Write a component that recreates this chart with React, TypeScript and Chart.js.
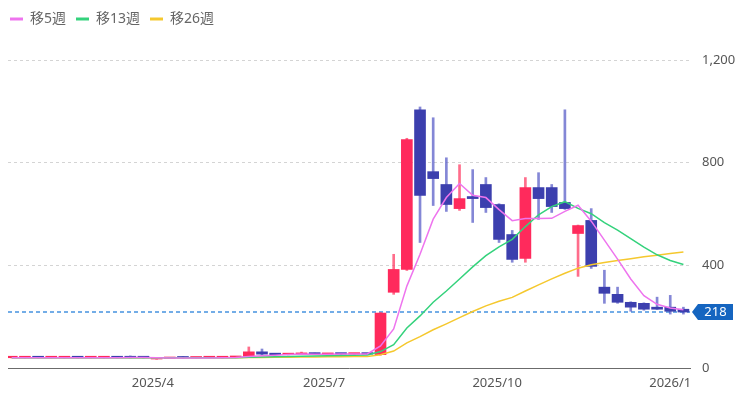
import React, { useEffect, useRef } from 'react';
import { Chart, registerables } from 'chart.js';

Chart.register(...registerables);

// Weekly candles (week start dates)
const weekStarts = [
  '2025-01-13', '2025-01-20', '2025-01-27', '2025-02-03', '2025-02-10', '2025-02-17', '2025-02-24',
  '2025-03-03', '2025-03-10', '2025-03-17', '2025-03-24', '2025-03-31', '2025-04-07', '2025-04-14',
  '2025-04-21', '2025-04-28', '2025-05-05', '2025-05-12', '2025-05-19', '2025-05-26', '2025-06-02',
  '2025-06-09', '2025-06-16', '2025-06-23', '2025-06-30', '2025-07-07', '2025-07-14', '2025-07-21',
  '2025-07-28', '2025-08-04', '2025-08-11', '2025-08-18', '2025-08-25', '2025-09-01', '2025-09-08',
  '2025-09-15', '2025-09-22', '2025-09-29', '2025-10-06', '2025-10-13', '2025-10-20', '2025-10-27',
  '2025-11-03', '2025-11-10', '2025-11-17', '2025-11-24', '2025-12-01', '2025-12-08', '2025-12-15',
  '2025-12-22', '2025-12-29', '2026-01-05',
];

const opens = [
  40, 40, 41, 40, 40, 41, 40, 40, 41, 42, 41, 35, 37, 40, 39, 40, 40, 41,
  44, 63, 54, 52, 53, 57, 53, 56, 54, 55,
  52, 295, 384, 1006, 765, 715, 621, 668, 715, 637, 520, 427, 703, 703, 645, 524,
  575, 315, 287, 256, 252, 237, 237, 229,
];
const closes = [
  40, 41, 40, 40, 41, 40, 40, 41, 40, 40, 40, 37, 39, 39, 40, 40, 41, 42,
  63, 54, 52, 53, 56, 54, 56, 54, 55, 54,
  214, 384, 890, 672, 738, 637, 660, 660, 625, 501, 423, 703, 660, 629, 621, 555,
  396, 291, 256, 237, 229, 229, 221, 218,
];
const highs = [
  41, 41, 41, 41, 42, 41, 41, 42, 42, 47, 45, 38, 40, 44, 41, 41, 41, 43,
  82, 74, 55, 55, 62, 58, 57, 57, 56, 56,
  216, 443, 895, 1017, 975, 819, 792, 773, 742, 640, 536, 742, 761, 715, 1006, 557,
  621, 381, 315, 258, 254, 276, 283, 237,
];
const lows = [
  39, 39, 39, 39, 39, 39, 39, 39, 39, 39, 39, 34, 37, 38, 38, 39, 39, 40,
  42, 52, 51, 51, 52, 53, 52, 53, 53, 52,
  50, 287, 380, 489, 633, 610, 614, 567, 606, 489, 412, 412, 579, 606, 618, 357,
  388, 252, 252, 221, 225, 228, 210, 210,
];

// Moving averages
const ma5 = [
  40, 40, 40, 40, 40, 40, 40, 40, 40, 41, 41, 40, 39, 39, 39, 39, 40, 41,
  45, 48, 50, 53, 55, 54, 54, 55, 55, 55,
  86, 152, 319, 443, 580, 664, 719, 673, 664, 617, 574, 582, 582, 583, 610, 634,
  572, 498, 424, 347, 282, 248, 234, 227,
];
const ma13 = [
  40, 40, 40, 40, 40, 40, 40, 40, 40, 40, 40, 40, 40, 40, 40, 40, 40, 40,
  42, 43, 44, 45, 46, 47, 48, 49, 50, 51,
  64, 91, 156, 203, 256, 300, 347, 394, 438, 472, 501, 551, 597, 629, 648, 622,
  601, 566, 537, 504, 471, 441, 419, 403,
];
const ma26 = [
  40, 40, 40, 40, 40, 40, 40, 40, 40, 40, 40, 40, 40, 40, 40, 40, 40, 40,
  41, 41, 42, 42, 43, 43, 44, 44, 45, 45,
  52, 66, 98, 122, 149, 172, 196, 220, 242, 260, 275, 300, 324, 347, 369, 389,
  402, 411, 419, 426, 433, 439, 446, 452,
];

const seriesNames = ['移5週', '移13週', '移26週'];
const seriesColors = ['#ee74ee', '#34d27c', '#f5c82e'];
const tickDates = ['2025-04-01', '2025-07-01', '2025-10-01', '2026-01-01'];
const tickLabels = ['2025/4', '2025/7', '2025/10', '2026/1'];
const yTicks = [0, 400, 800, 1200];
const lastPrice = 218;

const UP = '#ff2a5c';
const DOWN = '#3c3fae';
const UP_WICK = 'rgba(255,60,100,0.75)';
const DOWN_WICK = 'rgba(80,84,196,0.7)';
const FONT = '"Noto Sans", "Noto Sans CJK JP", sans-serif';

const DAY = 86400000;
const t0 = Date.parse(weekStarts[0]);
const dayOf = (s: string) => (Date.parse(s) - t0) / DAY;
const candleX = weekStarts.map((s) => dayOf(s) + 3);

const isUp = (i: number) => closes[i] >= opens[i];

export default function App() {
  const ref = useRef<HTMLCanvasElement | null>(null);

  useEffect(() => {
    if (!ref.current) return;
    Chart.defaults.font.family = FONT;

    const legendSpacer = {
      id: 'legendSpacer',
      beforeInit(chart: any) {
        const lg = chart.legend;
        if (!lg) return;
        const fit = lg.fit;
        lg.fit = function () {
          fit.call(this);
          this.height += 24;
        };
      },
    };

    const priceLine = {
      id: 'priceLine',
      beforeDatasetsDraw(chart: any) {
        const { ctx, chartArea } = chart;
        const y = chart.scales.y.getPixelForValue(lastPrice);
        ctx.save();
        ctx.strokeStyle = '#4592e0';
        ctx.lineWidth = 1.5;
        ctx.setLineDash([4, 3]);
        ctx.beginPath();
        ctx.moveTo(chartArea.left, y);
        ctx.lineTo(chartArea.right, y);
        ctx.stroke();
        ctx.restore();
      },
      afterDraw(chart: any) {
        const { ctx, chartArea } = chart;
        const y = chart.scales.y.getPixelForValue(lastPrice);
        const x0 = chartArea.right + 2;
        const h = 16;
        const w = 41;
        ctx.save();
        ctx.fillStyle = '#1565c0';
        ctx.beginPath();
        ctx.moveTo(x0, y);
        ctx.lineTo(x0 + 6, y - h / 2);
        ctx.lineTo(x0 + w, y - h / 2);
        ctx.lineTo(x0 + w, y + h / 2);
        ctx.lineTo(x0 + 6, y + h / 2);
        ctx.closePath();
        ctx.fill();
        ctx.fillStyle = '#ffffff';
        ctx.font = `13px ${FONT}`;
        ctx.textAlign = 'center';
        ctx.textBaseline = 'middle';
        ctx.fillText(String(lastPrice), x0 + 6 + (w - 6) / 2, y + 0.5);
        ctx.restore();
      },
    };

    const lineSets = [ma5, ma13, ma26].map((arr, k) => ({
      type: 'line' as const,
      label: seriesNames[k],
      data: arr.map((v, i) => ({ x: candleX[i], y: v })),
      borderColor: seriesColors[k],
      backgroundColor: seriesColors[k],
      borderWidth: 1.5,
      pointRadius: 0,
      tension: 0,
      order: k,
      yAxisID: 'y',
    }));

    const chart = new Chart(ref.current, {
      type: 'bar',
      data: {
        datasets: [
          ...lineSets,
          {
            type: 'bar',
            label: '',
            data: opens.map((o, i) => ({ x: candleX[i], y: [o, closes[i]] })),
            backgroundColor: (c: any) => (isUp(c.dataIndex) ? UP : DOWN),
            barThickness: 11,
            minBarLength: 1.5,
            grouped: false,
            order: 5,
            yAxisID: 'y',
          },
          {
            type: 'bar',
            label: '',
            data: lows.map((l, i) => ({ x: candleX[i], y: [l, highs[i]] })),
            backgroundColor: (c: any) => (isUp(c.dataIndex) ? UP_WICK : DOWN_WICK),
            barThickness: 2,
            grouped: false,
            order: 6,
            yAxisID: 'y',
          },
        ] as any,
      },
      options: {
        animation: false,
        responsive: true,
        maintainAspectRatio: false,
        layout: { padding: { top: 2, right: 0, bottom: 1, left: 0 } },
        plugins: {
          tooltip: { enabled: false },
          legend: {
            display: true,
            position: 'top',
            align: 'start',
            labels: {
              boxWidth: 13,
              boxHeight: 3,
              padding: 10,
              color: '#666',
              font: { size: 14, family: FONT },
              generateLabels: (ch: any) =>
                (Chart.defaults.plugins.legend.labels.generateLabels as any)(ch)
                  .filter((l: any) => l.datasetIndex < 3)
                  .map((l: any) => ({ ...l, lineWidth: 0, fillStyle: seriesColors[l.datasetIndex] })),
            },
          },
        },
        scales: {
          x: {
            type: 'linear',
            offset: false,
            min: 1,
            max: 363.5,
            grid: { display: false, drawTicks: false },
            border: { display: true, color: '#6b6b6b', width: 1 },
            afterBuildTicks: (s: any) => {
              s.ticks = tickDates.map((d) => ({ value: dayOf(d) }));
            },
            ticks: {
              autoSkip: false,
              maxRotation: 0,
              padding: 7,
              color: '#555',
              font: { size: 13, family: FONT },
              callback: (_v: any, idx: number) => tickLabels[idx],
            },
            afterFit: (s: any) => {
              s.height = 24;
            },
          },
          yl: {
            type: 'linear',
            position: 'left',
            display: true,
            grid: { display: false, drawTicks: false },
            border: { display: false },
            ticks: { display: false },
            afterFit: (s: any) => {
              s.width = 8;
            },
          },
          y: {
            type: 'linear',
            position: 'right',
            min: 0,
            max: 1200,
            afterBuildTicks: (s: any) => {
              s.ticks = yTicks.map((v) => ({ value: v }));
            },
            grid: { color: '#d4d4d4', drawTicks: false, lineWidth: 1 },
            border: { display: false, dash: [3, 3] },
            ticks: {
              padding: 12,
              color: '#555',
              font: { size: 13, family: FONT },
              callback: (v: any) => Number(v).toLocaleString('en-US'),
            },
            afterFit: (s: any) => {
              s.width = 62;
            },
          },
        },
      } as any,
      plugins: [legendSpacer, priceLine],
    });

    return () => chart.destroy();
  }, []);

  return (
    <div style={{ position: 'fixed', left: 0, top: 0, width: 752, height: 393, background: '#fff' }}>
      <canvas ref={ref} />
    </div>
  );
}
